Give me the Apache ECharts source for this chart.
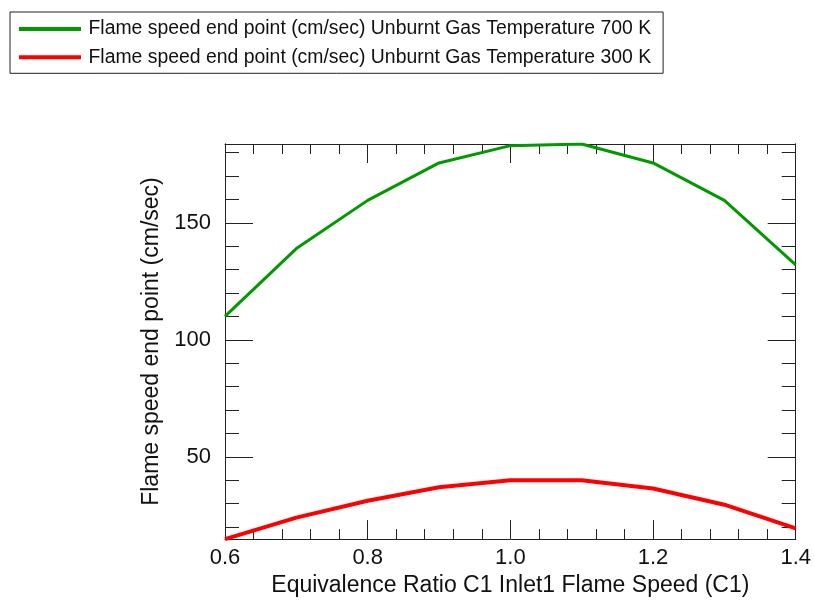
<!DOCTYPE html>
<html>
<head>
<meta charset="utf-8">
<script src="https://cdn.jsdelivr.net/npm/echarts@6/dist/echarts.min.js"></script>
<style>
  html, body { margin: 0; padding: 0; background: #fff; }
  #main { width: 814px; height: 602px; }
</style>
</head>
<body>
<div id="main"></div>
<script>
// data
var xValues = [0.6, 0.7, 0.8, 0.9, 1.0, 1.1, 1.2, 1.3, 1.4];
var speed700 = [110, 139, 159.6, 175.6, 183.0, 183.7, 175.6, 159.6, 132];
var speed300 = [14.8, 24, 31.2, 37, 40, 40, 36.4, 29.5, 19.4];
var seriesNames = [
  'Flame speed end point (cm/sec) Unburnt Gas Temperature 700 K',
  'Flame speed end point (cm/sec) Unburnt Gas Temperature 300 K'
];
var seriesColors = ['#009900', '#ff0000'];
var xTickLabels = ['0.6', '0.8', '1.0', '1.2', '1.4'];
var yTickLabels = ['50', '100', '150'];
var xTitle = 'Equivalence Ratio C1 Inlet1 Flame Speed (C1)';
var yTitle = 'Flame speed end point (cm/sec)';

var xMin = 0.6, xMax = 1.4;
var yMin = 14.8, yMax = 183.7;

var font = 'Liberation Sans, Arial, Helvetica, sans-serif';
var ink = '#222';

function pairs(xs, ys) {
  var out = [];
  for (var i = 0; i < xs.length; i++) out.push([xs[i], ys[i]]);
  return out;
}

function xAxisOf(position, showLabels) {
  return {
    type: 'value',
    position: position,
    min: xMin,
    max: xMax,
    interval: 0.2,
    axisLine: { show: true, lineStyle: { color: ink, width: 1 } },
    axisTick: { show: true, inside: true, length: 19, lineStyle: { color: ink, width: 1 } },
    minorTick: { show: true, splitNumber: 5, length: 10, lineStyle: { color: ink, width: 1 } },
    splitLine: { show: false },
    axisLabel: {
      show: showLabels,
      margin: 8,
      fontFamily: font,
      fontSize: 22,
      color: '#111',
      formatter: function (v) {
        var s = v.toFixed(1);
        return xTickLabels.indexOf(s) >= 0 ? s : '';
      }
    }
  };
}

// major ticks every 50, minor every 10: two stacked axes per side
function yAxisOf(position, split, tickLen, showLabels) {
  return {
    type: 'value',
    position: position,
    min: yMin,
    max: yMax,
    splitNumber: split,
    axisLine: { show: true, lineStyle: { color: ink, width: 1 } },
    axisTick: { show: true, inside: true, length: tickLen, lineStyle: { color: ink, width: 1 } },
    splitLine: { show: false },
    axisLabel: {
      show: showLabels,
      margin: 14,
      fontFamily: font,
      fontSize: 22,
      color: '#111',
      formatter: function (v) {
        var s = String(Math.round(v));
        return (Math.abs(v - Math.round(v)) < 1e-6 && yTickLabels.indexOf(s) >= 0) ? s : '';
      }
    }
  };
}

var chart = echarts.init(document.getElementById('main'), null, { renderer: 'canvas' });

var yLeft = yAxisOf('left', 3, 28, true);
yLeft.name = yTitle;
yLeft.nameLocation = 'middle';
yLeft.nameGap = 61;
yLeft.nameTextStyle = { fontFamily: font, fontSize: 23, color: '#111', lineHeight: 23 };

var xBottom = xAxisOf('bottom', true);
xBottom.name = xTitle;
xBottom.nameLocation = 'middle';
xBottom.nameGap = 32;
xBottom.nameTextStyle = { fontFamily: font, fontSize: 23, color: '#111', lineHeight: 23 };

var option = {
  animation: false,
  backgroundColor: '#fff',
  grid: { left: 225, right: 15, top: 144, bottom: 56, containLabel: false },
  legend: {
    orient: 'vertical',
    left: 10,
    top: 12,
    padding: [7, 12, 6, 9],
    itemGap: 8.3,
    itemWidth: 62,
    itemHeight: 4,
    icon: 'rect',
    borderColor: '#222',
    borderWidth: 1,
    selectedMode: false,
    textStyle: { fontFamily: font, fontSize: 19.4, lineHeight: 20, color: '#111', padding: [0, 0, 0, 2.5] },
    data: seriesNames
  },
  xAxis: [xBottom, xAxisOf('top', false)],
  yAxis: [
    yLeft,
    yAxisOf('left', 17, 14, false),
    yAxisOf('right', 3, 28, false),
    yAxisOf('right', 17, 14, false)
  ],
  series: [
    {
      name: seriesNames[0],
      type: 'line',
      xAxisIndex: 0,
      yAxisIndex: 0,
      data: pairs(xValues, speed700),
      showSymbol: false,
      symbol: 'none',
      lineStyle: { color: seriesColors[0], width: 3 },
      itemStyle: { color: seriesColors[0] }
    },
    {
      name: seriesNames[1],
      type: 'line',
      xAxisIndex: 0,
      yAxisIndex: 0,
      data: pairs(xValues, speed300),
      showSymbol: false,
      symbol: 'none',
      lineStyle: { color: seriesColors[1], width: 4 },
      itemStyle: { color: seriesColors[1] }
    }
  ]
};

chart.setOption(option);
</script>
</body>
</html>
